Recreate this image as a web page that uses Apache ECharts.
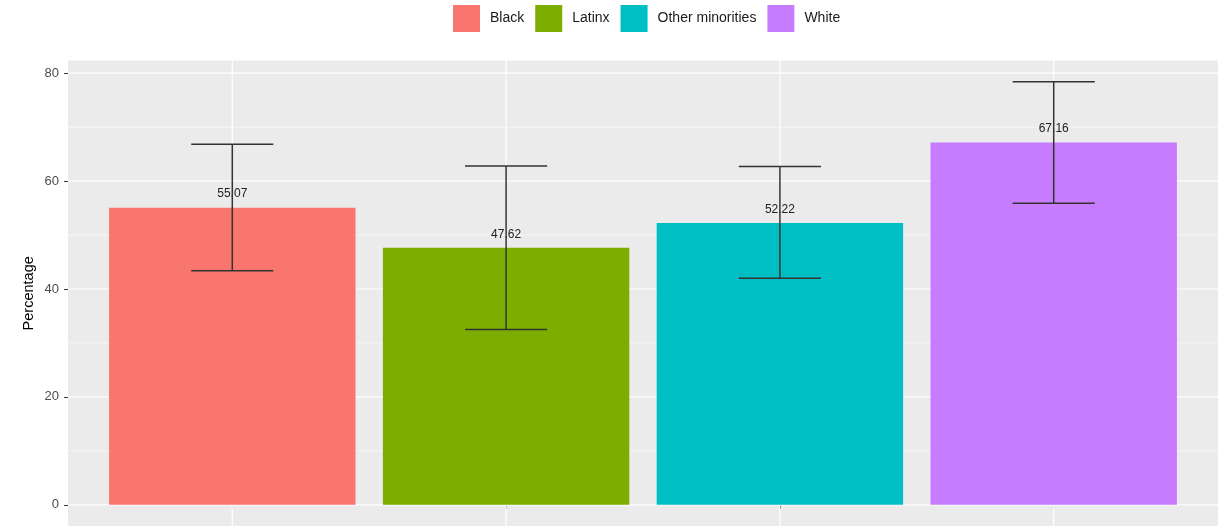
<!DOCTYPE html>
<html><head><meta charset="utf-8">
<script src="https://cdn.jsdelivr.net/npm/echarts@6/dist/echarts.min.js"></script>
<style>html,body{margin:0;padding:0;background:#fff}#c{width:1218px;height:527px}</style>
</head><body><div id="c"></div>
<script>
const categories = ['Black', 'Latinx', 'Other minorities', 'White'];
const values = [55.07, 47.62, 52.22, 67.16];
const lowerCI = [43.4, 32.5, 42.0, 55.9];
const upperCI = [66.8, 62.8, 62.7, 78.4];
const colors = ['#F8766D', '#7CAE00', '#00BFC4', '#C77CFF'];
const yTicks = [0, 20, 40, 60, 80];
const yMinorTicks = [10, 30, 50, 70];
const xPositions = [1, 2, 3, 4];

const X_MIN = 0.4, X_MAX = 4.6, Y_MIN = -3.92, Y_MAX = 82.32;
const FONT = '"Liberation Sans", Arial, sans-serif';

const chart = echarts.init(document.getElementById('c'), null, {renderer: 'canvas'});

function gridLineSeries(name, data, horizontal, width) {
  return {
    name: name, type: 'custom', z: 1, silent: true,
    data: data.map(v => horizontal ? [X_MIN, v] : [v, Y_MIN]),
    renderItem: (params, api) => {
      let a, b;
      if (horizontal) {
        const v = api.value(1);
        a = api.coord([X_MIN, v]); b = api.coord([X_MAX, v]);
      } else {
        const v = api.value(0);
        a = api.coord([v, Y_MIN]); b = api.coord([v, Y_MAX]);
      }
      return {type: 'line', shape: {x1: a[0], y1: a[1], x2: b[0], y2: b[1]},
              style: {stroke: '#FFFFFF', lineWidth: width}};
    }
  };
}

const barSeries = categories.map((cat, i) => ({
  name: cat, type: 'custom', z: 2,
  itemStyle: {color: colors[i]},
  data: [[xPositions[i], values[i]]],
  renderItem: (params, api) => {
    const x = api.value(0), v = api.value(1);
    const p0 = api.coord([x - 0.45, v]);
    const p1 = api.coord([x + 0.45, 0]);
    return {type: 'group', children: [
      {type: 'rect', shape: {x: p0[0], y: p0[1], width: p1[0] - p0[0], height: p1[1] - p0[1]},
       style: {fill: api.visual('color')}},
      {type: 'text', style: {text: v.toFixed(2), x: (p0[0] + p1[0]) / 2, y: p0[1] - 13.5,
        align: 'center', verticalAlign: 'middle', font: '12px ' + FONT, fill: '#222222'}}
    ]};
  }
}));

const errorSeries = {
  name: 'CI', type: 'custom', z: 3, silent: true,
  data: categories.map((c, i) => [xPositions[i], lowerCI[i], upperCI[i]]),
  renderItem: (params, api) => {
    const x = api.value(0), lo = api.value(1), hi = api.value(2);
    const top = api.coord([x, hi]), bot = api.coord([x, lo]);
    const l = api.coord([x - 0.15, hi])[0], r = api.coord([x + 0.15, hi])[0];
    const st = {stroke: '#333333', lineWidth: 1.5};
    return {type: 'group', children: [
      {type: 'line', shape: {x1: top[0], y1: top[1], x2: bot[0], y2: bot[1]}, style: st},
      {type: 'line', shape: {x1: l, y1: top[1], x2: r, y2: top[1]}, style: st},
      {type: 'line', shape: {x1: l, y1: bot[1], x2: r, y2: bot[1]}, style: st}
    ]};
  }
};

chart.setOption({
  animation: false,
  textStyle: {fontFamily: FONT},
  legend: {
    data: categories, top: 5, left: 453, icon: 'rect', padding: 0,
    itemWidth: 27, itemHeight: 27, itemGap: 11,
    textStyle: {fontSize: 14, color: '#1A1A1A', padding: [0, 0, 0, 5], fontFamily: FONT}
  },
  grid: {left: 68, right: 0, top: 60.6, bottom: 1, show: true,
         backgroundColor: '#EBEBEB', borderWidth: 0, containLabel: false,
         outerBoundsMode: 'none'},
  xAxis: {
    type: 'value', min: X_MIN, max: X_MAX,
    axisLine: {show: false}, splitLine: {show: false},
    axisTick: {show: true, customValues: xPositions, length: 4, lineStyle: {color: '#333333', width: 1}},
    axisLabel: {show: true, customValues: xPositions, formatter: v => categories[Math.round(v) - 1] || '',
                color: '#4D4D4D', fontSize: 13}
  },
  yAxis: {
    type: 'value', min: Y_MIN, max: Y_MAX,
    name: 'Percentage', nameLocation: 'middle', nameGap: 32, nameRotate: 90,
    nameMoveOverlap: false,
    nameTextStyle: {fontSize: 14.5, color: '#000000', fontFamily: FONT},
    axisLine: {show: false}, splitLine: {show: false},
    axisTick: {show: true, customValues: yTicks, length: 4, lineStyle: {color: '#333333', width: 1}},
    axisLabel: {show: true, customValues: yTicks, color: '#4D4D4D', fontSize: 13, margin: 9}
  },
  series: [
    gridLineSeries('minorY', yMinorTicks, true, 0.6),
    gridLineSeries('majorY', yTicks, true, 1.2),
    gridLineSeries('majorX', xPositions, false, 1.2),
    ...barSeries,
    errorSeries
  ]
});
</script></body></html>
